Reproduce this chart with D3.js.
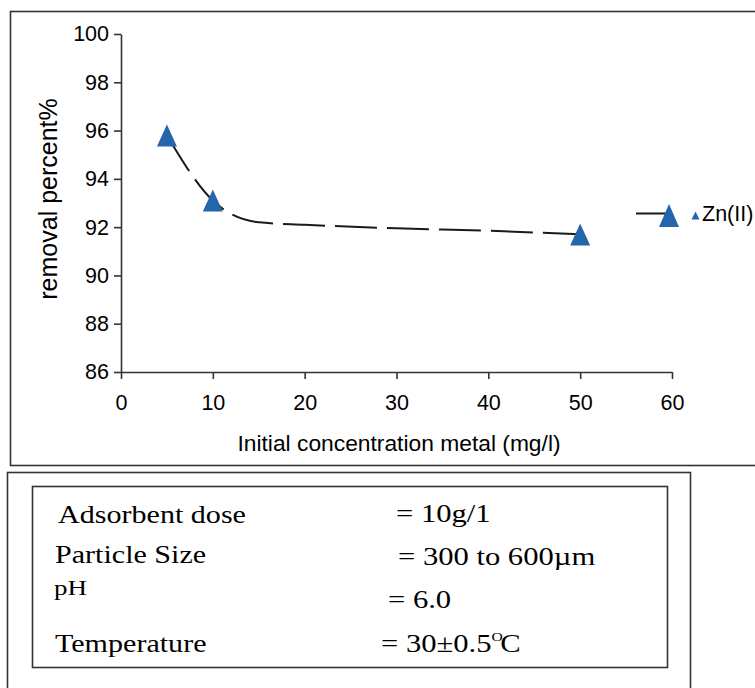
<!DOCTYPE html>
<html>
<head>
<meta charset="utf-8">
<script src="https://cdn.jsdelivr.net/npm/d3@7"></script>
<style>
  body { margin: 0; background: #fff; }
  svg { display: block; }
  .axis path, .axis line { stroke: #333; stroke-width: 1.6; }
  .axis text { font-family: "Liberation Sans", Arial, sans-serif; font-size: 21.5px; fill: #000; }
  .sans { font-family: "Liberation Sans", Arial, sans-serif; fill: #000; }
  .serif { font-family: "Liberation Serif", "Times New Roman", serif; fill: #000; }
</style>
</head>
<body>
<script>
// dashed curve (mg/l vs removal %)
var concentration = [5, 10, 15, 20, 30, 40, 50];
var removal = [95.8, 93.1, 92.2, 92.1, 91.95, 91.85, 91.7];

// points that carry a marker
var markerConc = [5, 10, 50];
var markerRemoval = [95.8, 93.1, 91.7];

var xTicks = [0, 10, 20, 30, 40, 50, 60];
var yTicks = [86, 88, 90, 92, 94, 96, 98, 100];

var seriesName = 'Zn(II)';
var xTitle = 'Initial concentration metal (mg/l)';
var yTitle = 'removal percent%';

// experimental conditions box
var condLabels = ['Adsorbent dose', 'Particle Size', 'pH', 'Temperature'];
var condValues = ['= 10g/1', '= 300 to 600\u00b5m', '= 6.0', '= 30\u00b10.5'];

var width = 755, height = 688;
var blue = '#2565ab';

var svg = d3.select('body').append('svg')
  .attr('width', width)
  .attr('height', height);

var x = d3.scaleLinear().domain([0, 60]).range([121, 672]);
var y = d3.scaleLinear().domain([86, 100]).range([372, 34]);

// chart frame
svg.append('rect')
  .attr('x', 10.5).attr('y', 11.5)
  .attr('width', 760).attr('height', 454)
  .attr('fill', 'none').attr('stroke', '#333').attr('stroke-width', 1.6);

// axes
svg.append('g')
  .attr('class', 'axis')
  .attr('transform', 'translate(0,' + y(86) + ')')
  .call(d3.axisBottom(x).tickValues(xTicks).tickSize(7).tickSizeOuter(0).tickPadding(16));

svg.append('g')
  .attr('class', 'axis')
  .attr('transform', 'translate(' + x(0) + ',0)')
  .call(d3.axisLeft(y).tickValues(yTicks).tickSize(7).tickSizeOuter(0).tickPadding(5));

// axis titles
svg.append('text')
  .attr('class', 'sans')
  .attr('x', 399).attr('y', 451)
  .attr('text-anchor', 'middle')
  .style('font-size', '22.8px')
  .text(xTitle);

svg.append('text')
  .attr('class', 'sans')
  .attr('transform', 'translate(57,199) rotate(-90)')
  .attr('text-anchor', 'middle')
  .style('font-size', '25px')
  .text(yTitle);

// triangle marker, w wide and h tall, centred
function triangle(w, h) {
  return 'M0,' + (-h / 2) + 'L' + (w / 2) + ',' + (h / 2) + 'L' + (-w / 2) + ',' + (h / 2) + 'Z';
}

// dashed smoothed line
var line = d3.line()
  .x(function(d, i) { return x(concentration[i]); })
  .y(function(d) { return y(d); })
  .curve(d3.curveMonotoneX);

svg.append('path')
  .datum(removal)
  .attr('fill', 'none')
  .attr('stroke', '#1a1a1a')
  .attr('stroke-width', 2)
  .attr('stroke-dasharray', '42,10')
  .attr('d', line);

svg.selectAll('.marker')
  .data(markerRemoval)
  .enter().append('path')
  .attr('class', 'marker')
  .attr('transform', function(d, i) { return 'translate(' + x(markerConc[i]) + ',' + y(d) + ')'; })
  .attr('d', triangle(20, 22))
  .attr('fill', blue);

// legend
var legend = svg.append('g').attr('transform', 'translate(636,213.5)');
legend.append('line')
  .attr('x1', 0).attr('x2', 33)
  .attr('stroke', '#1a1a1a').attr('stroke-width', 2);
legend.append('path')
  .attr('transform', 'translate(33,2)')
  .attr('d', triangle(20, 23))
  .attr('fill', blue);
legend.append('path')
  .attr('transform', 'translate(59.5,2)')
  .attr('d', triangle(8, 8))
  .attr('fill', blue);
legend.append('text')
  .attr('class', 'sans')
  .attr('x', 66).attr('y', 7.5)
  .style('font-size', '21.5px')
  .text(seriesName);

// conditions box
svg.append('rect')
  .attr('x', 7.5).attr('y', 472.5)
  .attr('width', 683).attr('height', 230)
  .attr('fill', 'none').attr('stroke', '#333').attr('stroke-width', 1.6);

svg.append('rect')
  .attr('x', 32.5).attr('y', 486.5)
  .attr('width', 635).attr('height', 181)
  .attr('fill', 'none').attr('stroke', '#333').attr('stroke-width', 1.6);

var labelPos = [[58, 523], [55, 563], [54, 595], [55, 652]];
var labelSize = [25.5, 25.5, 20, 25.5];
var labelStretch = [1.18, 1.18, 1.35, 1.18];
var valuePos = [[396, 522], [398, 565], [388, 608], [381, 652]];

svg.selectAll('.cond-label')
  .data(condLabels)
  .enter().append('text')
  .attr('class', 'serif cond-label')
  .attr('transform', function(d, i) {
    return 'translate(' + labelPos[i][0] + ',' + labelPos[i][1] + ') scale(' + labelStretch[i] + ',1)';
  })
  .style('font-size', function(d, i) { return labelSize[i] + 'px'; })
  .text(function(d) { return d; });

var values = svg.selectAll('.cond-value')
  .data(condValues)
  .enter().append('text')
  .attr('class', 'serif cond-value')
  .attr('transform', function(d, i) {
    return 'translate(' + valuePos[i][0] + ',' + valuePos[i][1] + ') scale(1.2,1)';
  })
  .style('font-size', '25.5px')
  .text(function(d) { return d; });

// degree mark over the C
var last = d3.select(values.nodes()[3]);
last.append('tspan')
  .attr('dy', -11)
  .style('font-size', '13px')
  .text('O');
last.append('tspan')
  .attr('dx', -2).attr('dy', 11)
  .text('C');
</script>
</body>
</html>
